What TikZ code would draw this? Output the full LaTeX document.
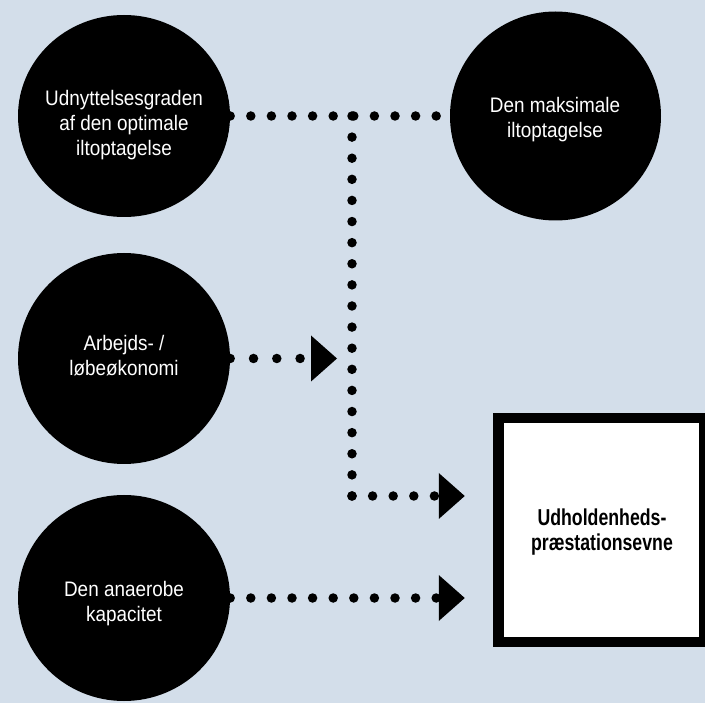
\documentclass[tikz,border=0pt]{standalone}
\usepackage{fontspec}
\setmainfont{Liberation Sans}
\newfontfamily\regfont[FakeStretch=0.9]{Liberation Sans}
\newfontfamily\bldfont[FakeStretch=0.77]{Liberation Sans}
\usetikzlibrary{arrows.meta,shapes.geometric}
\definecolor{bgblue}{RGB}{211,222,234}
\begin{document}
\begin{tikzpicture}[x=1pt,y=-1pt,
  blob/.style={ellipse, fill=black, draw=none, inner sep=0pt},
  lbl/.style={text=white, align=center, inner sep=0pt, font=\regfont\fontsize{21}{25}\selectfont},
  boxlbl/.style={text=black, align=center, inner sep=0pt, font=\bldfont\bfseries\fontsize{23}{25}\selectfont},
  dotline/.style={line width=9.5pt, line cap=round, dash pattern=on 0pt off #1},
  dotline/.default=20.6pt,
  arrowtri/.style={-{Triangle[length=26pt,width=46pt,line width=0pt]}},
  target/.style={rectangle, draw=black, fill=white, line width=10.5pt, inner sep=0pt, minimum width=206pt, minimum height=224pt}
]
\fill[bgblue] (0,0) rectangle (705,703);
\useasboundingbox (0,0) rectangle (705,703);

% ellipses
\node[blob, minimum width=212pt, minimum height=202pt] (e1) at (124,116) {};
\node[blob, minimum width=211pt, minimum height=209pt] (e2) at (555.5,116) {};
\node[blob, minimum width=212pt, minimum height=211pt] (e3) at (124,358.5) {};
\node[blob, minimum width=212pt, minimum height=206pt] (e4) at (124,598) {};

% target box
\node[target] (B) at (601.5,530) {};

% junction points
\coordinate (j1) at (352,116);
\coordinate (c1) at (352,496);

% connectors
\draw[dotline] (e1.east) -- (e2.west);
\draw[dotline=21.11pt] (j1) -- (c1);
\draw[dotline, arrowtri, shorten >=28.5pt] (c1) -- (c1 -| B.west);
\draw[dotline=23.3pt, arrowtri, shorten >=15pt] (e3.east) -- (e3.east -| j1);
\draw[dotline, arrowtri, shorten >=28.5pt] (e4.east) -- (e4.east -| B.west);

% texts
\node[lbl] (t1) at (124,125) {Udnyttelsesgraden\\af den optimale\\iltoptagelse};
\node[lbl] (t2) at (555,120) {Den maksimale\\iltoptagelse};
\node[lbl] (t3) at (124,356) {Arbejds- /\\løbeøkonomi};
\node[lbl] (t4) at (124,604) {Den anaerobe\\kapacitet};
\node[boxlbl] (tB) at (602,532) {Udholdenheds-\\præstationsevne};
\end{tikzpicture}
\end{document}
